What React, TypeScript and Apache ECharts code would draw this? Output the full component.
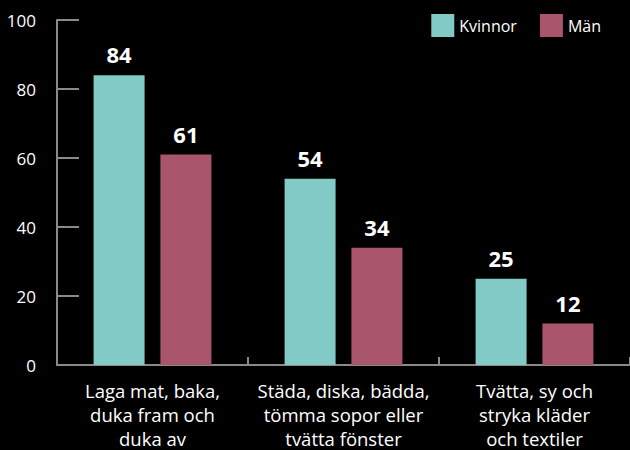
import React, { useEffect, useRef } from "react";
import * as echarts from "echarts";

const categories = [
  "Laga mat, baka,\nduka fram och\nduka av",
  "Städa, diska, bädda,\ntömma sopor eller\ntvätta fönster",
  "Tvätta, sy och\nstryka kläder\noch textiler",
];
const kvinnor = [84, 54, 25];
const man = [61, 34, 12];
const yTicks = { min: 0, max: 100, interval: 20 };

const FONT = "'Open Sans', 'Noto Sans', sans-serif";

export default function App() {
  const ref = useRef<HTMLDivElement>(null);
  useEffect(() => {
    const chart = echarts.init(ref.current!, undefined, { renderer: "svg" });
    const label = {
      show: true,
      position: "top",
      distance: 10,
      color: "#ffffff",
      fontSize: 22,
      fontWeight: "bold",
      fontFamily: FONT,
    };
    chart.setOption({
      animation: false,
      backgroundColor: "#000000",
      textStyle: { fontFamily: FONT },
      legend: {
        top: 9,
        right: 24,
        itemWidth: 23,
        itemHeight: 23,
        itemGap: 23,
        icon: "rect",
        textStyle: { color: "#ffffff", fontSize: 16, fontFamily: FONT },
        data: ["Kvinnor", "Män"],
      },
      grid: { left: 57, right: 0, top: 20, bottom: 85, containLabel: false, outerBoundsMode: "none" },
      xAxis: {
        type: "category",
        data: categories,
        axisLine: { lineStyle: { color: "#8a8a8a", width: 2 } },
        axisTick: { show: true, inside: true, length: 8, interval: 0, lineStyle: { color: "#8a8a8a", width: 2 } },
        axisLabel: {
          color: "#ffffff",
          fontSize: 18.5,
          lineHeight: 24,
          margin: 13,
          interval: 0,
          hideOverlap: false,
          fontFamily: FONT,
        },
      },
      yAxis: {
        type: "value",
        min: yTicks.min,
        max: yTicks.max,
        interval: yTicks.interval,
        splitLine: { show: false },
        axisLine: { show: true, lineStyle: { color: "#8a8a8a", width: 2 } },
        axisTick: { show: true, inside: true, length: 22, lineStyle: { color: "#8a8a8a", width: 2 } },
        axisLabel: { color: "#ffffff", fontSize: 17, margin: 21, fontFamily: FONT },
      },
      series: [
        {
          name: "Kvinnor",
          type: "bar",
          data: kvinnor,
          barWidth: 51,
          barGap: "31%",
          itemStyle: { color: "#82cac5" },
          label,
        },
        {
          name: "Män",
          type: "bar",
          data: man,
          barWidth: 51,
          itemStyle: { color: "#a9566c" },
          label,
        },
      ],
    });
    return () => chart.dispose();
  }, []);
  return <div ref={ref} style={{ width: 630, height: 450, position: "absolute", left: 0, top: 0 }} />;
}
